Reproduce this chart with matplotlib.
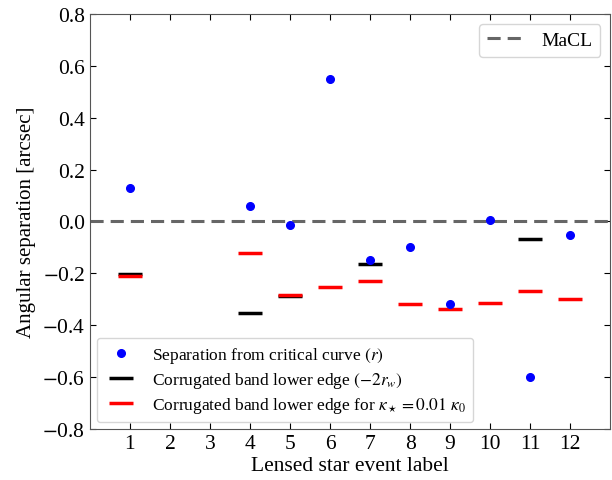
import matplotlib
matplotlib.use("Agg")
import matplotlib.pyplot as plt

plt.rcParams['font.family'] = ['Liberation Serif', 'DejaVu Serif']
plt.rcParams['mathtext.fontset'] = 'stix'

labels = [1, 2, 3, 4, 5, 6, 7, 8, 9, 10, 11, 12]
sep_x = [1, 4, 5, 6, 7, 8, 9, 10, 11, 12]
sep_r = [0.13, 0.06, -0.013, 0.55, -0.15, -0.10, -0.32, 0.005, -0.60, -0.052]
black_x = [1, 4, 5, 7, 11]
black_y = [-0.202, -0.351, -0.289, -0.163, -0.067]
red_x = [1, 4, 5, 6, 7, 8, 9, 10, 11, 12]
red_y = [-0.209, -0.121, -0.283, -0.252, -0.229, -0.320, -0.337, -0.315, -0.267, -0.297]

fig = plt.figure(figsize=(6.12, 4.81), dpi=100)
ax = fig.add_axes([0.147, 0.106, 0.850, 0.863])

macl = ax.axhline(0.0, color='#666666', ls='--', lw=2.2, dashes=(4.3, 2.3))
p1, = ax.plot(sep_x, sep_r, 'o', color='blue', ms=5.5, ls='none', zorder=3)
p2, = ax.plot(black_x, black_y, '_', color='black', ms=17, mew=2.5, ls='none', zorder=2)
p3, = ax.plot(red_x, red_y, '_', color='red', ms=17, mew=2.5, ls='none', zorder=2)

ax.set_xlim(0, 13)
ax.set_ylim(-0.8, 0.8)
ax.set_xticks(labels)
ax.set_xticklabels([str(l) for l in labels])
ax.set_yticks([-0.8, -0.6, -0.4, -0.2, 0.0, 0.2, 0.4, 0.6, 0.8])
ax.set_yticklabels(['$-$0.8', '$-$0.6', '$-$0.4', '$-$0.2', '0.0', '0.2', '0.4', '0.6', '0.8'])
ax.tick_params(direction='in', top=True, right=True, labelsize=15.5, length=4)
for s in ax.spines.values():
    s.set_color('#555555')
ax.set_xlabel('Lensed star event label', fontsize=15.5, labelpad=2)
ax.set_ylabel('Angular separation [arcsec]', fontsize=15, labelpad=4)

leg1 = ax.legend([macl], ['MaCL'], loc='upper right', fontsize=14, handlelength=2.0)
ax.add_artist(leg1)
ax.legend([p1, p2, p3],
          ['Separation from critical curve $(r)$',
           'Corrugated band lower edge $(-2r_w)$',
           r'Corrugated band lower edge for $\kappa_\star = 0.01\ \kappa_0$'],
          loc='lower left', fontsize=12.5, labelspacing=0.3, borderaxespad=0.4)

fig.savefig('out.png', dpi=100)
